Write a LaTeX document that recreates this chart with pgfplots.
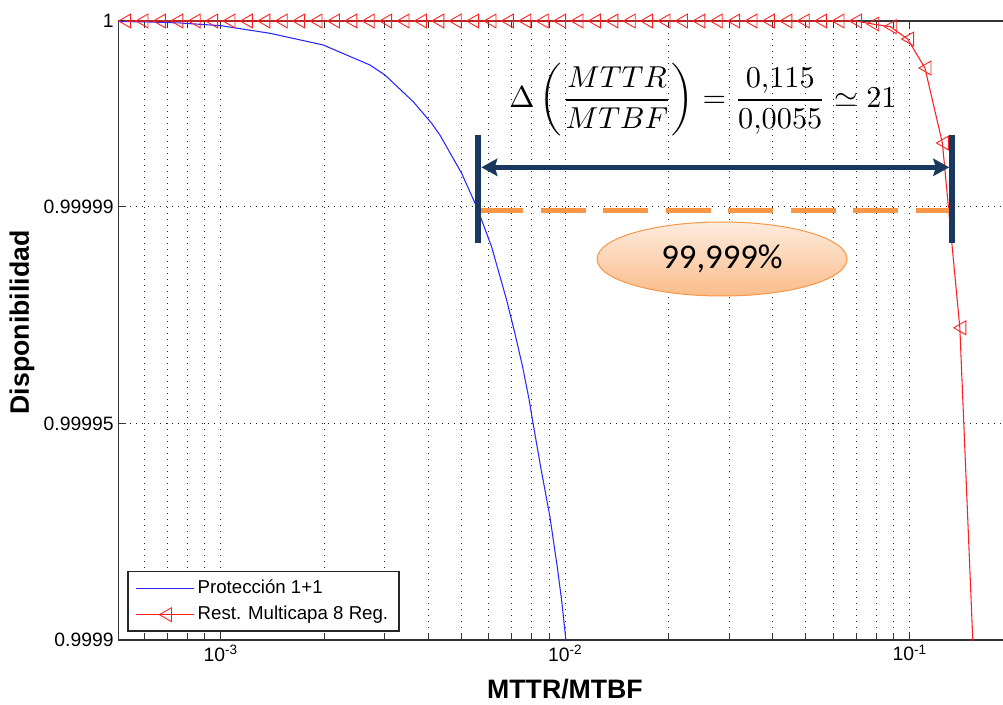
\documentclass[border=0pt]{standalone}
\usepackage{amsmath}
\usepackage{graphicx}
\usepackage[no-math]{fontspec}
\setmainfont{Liberation Sans}
\newfontfamily\calibri{Carlito}
\usepackage{pgfplots}
\pgfplotsset{compat=1.18}
\usetikzlibrary{arrows.meta}
\definecolor{navy}{RGB}{25,55,95}
\definecolor{orng}{RGB}{247,150,70}
\definecolor{ellTop}{RGB}{253,236,222}
\definecolor{ellBot}{RGB}{250,188,138}
\definecolor{mblue}{RGB}{40,40,255}
\definecolor{mred}{RGB}{255,30,30}
\begin{document}
\begin{tikzpicture}
\begin{axis}[
  at={(0pt,0pt)}, anchor=south west,
  scale only axis, width=665.5pt, height=464.25pt,
  xmode=log, xmin=5.045e-4, xmax=0.19,
  ymin=0, ymax=2.8571,
  ytick={0,1,2,2.8571}, yticklabels={0.9999,0.99995,0.99999,1},
  xtick={0.001,0.01,0.1},
  xticklabels={10\textsuperscript{-3},10\textsuperscript{-2},10\textsuperscript{-1}},
  minor xtick={6e-4,7e-4,8e-4,9e-4,2e-3,3e-3,4e-3,5e-3,6e-3,7e-3,8e-3,9e-3,0.02,0.03,0.04,0.05,0.06,0.07,0.08,0.09},
  ytick pos=left,
  tick align=inside,
  major tick length=6pt, minor tick length=4.5pt,
  every tick/.style={black!80, line width=0.75pt},
  axis line style={black!80, line width=1.1pt},
  grid=both,
  major grid style={black!85, line width=0.75pt, dash pattern=on 0.75pt off 3.75pt},
  minor grid style={black!85, line width=0.75pt, dash pattern=on 0.75pt off 3.75pt},
  ticklabel style={font=\fontsize{14.5}{17}\selectfont},
  xlabel={MTTR/MTBF}, ylabel={Disponibilidad},
  every axis x label/.style={at={(axis description cs:0.5034,-0.079)}, anchor=center, font=\bfseries\fontsize{20}{24}\selectfont},
  every axis y label/.style={at={(axis description cs:-0.1085,0.513)}, rotate=90, anchor=center, font=\bfseries\fontsize{20}{24}\selectfont},
  legend style={at={(rel axis cs:0.0101,0.0134)}, anchor=south west, draw=black!85, line width=1pt,
     font=\fontsize{14}{16}\selectfont, inner xsep=6pt, inner ysep=3.75pt, row sep=3pt,
     nodes={inner sep=2pt, text height=10.3pt, text depth=2.7pt}},
  legend cell align=left,
  legend image code/.code={\draw[#1, mark repeat=2, mark phase=2] plot coordinates {(0pt,0pt) (21.75pt,0pt) (43.5pt,0pt)};},
]
\addplot[mblue, line width=0.8pt] coordinates {
(5.045e-4,2.8548) (6.235e-4,2.8525) (7.617e-4,2.8480) (1.000e-3,2.8355)
(1.390e-3,2.8004) (1.985e-3,2.7464) (2.713e-3,2.6540) (2.998e-3,2.6079)
(3.623e-3,2.4847) (4.097e-3,2.3850) (4.330e-3,2.3309) (5.006e-3,2.1542)
(5.535e-3,2.0000) (6.117e-3,1.8154) (6.764e-3,1.5693) (7.149e-3,1.4156)
(7.526e-3,1.2615) (7.866e-3,1.1078) (8.047e-3,1.0120) (8.490e-3,0.7999)
(9.034e-3,0.5691) (9.486e-3,0.3383) (9.768e-3,0.1846) (1.0053e-2,0.0)
(1.03e-2,-0.15)
};
\addlegendentry{Protección 1+1}
\addplot[mred, line width=0.8pt, mark=triangle, mark size=6pt,
  mark options={solid, line width=0.65pt, xshift=1.5pt, rotate=90}] coordinates {
(5.264e-4,2.8571) (5.912e-4,2.8571) (6.642e-4,2.8571) (7.462e-4,2.8571)
(8.381e-4,2.8571) (9.415e-4,2.8571) (1.0575e-3,2.8571) (1.188e-3,2.8571)
(1.335e-3,2.8571) (1.500e-3,2.8571) (1.684e-3,2.8571) (1.892e-3,2.8571)
(2.126e-3,2.8571) (2.388e-3,2.8571) (2.682e-3,2.8571) (3.013e-3,2.8571)
(3.385e-3,2.8571) (3.802e-3,2.8571) (4.271e-3,2.8571) (4.797e-3,2.8571)
(5.389e-3,2.8571) (6.053e-3,2.8571) (6.800e-3,2.8571) (7.638e-3,2.8571)
(8.580e-3,2.8571) (9.639e-3,2.8571) (1.083e-2,2.8571) (1.216e-2,2.8571)
(1.367e-2,2.8571) (1.535e-2,2.8571) (1.724e-2,2.8571) (1.937e-2,2.8571)
(2.176e-2,2.8571) (2.445e-2,2.8571) (2.746e-2,2.8571) (3.085e-2,2.8571)
(3.465e-2,2.8571) (3.892e-2,2.8571) (4.372e-2,2.8571) (4.912e-2,2.8571)
(5.518e-2,2.8571) (6.198e-2,2.8571) (6.963e-2,2.8571) (7.820e-2,2.843)
(8.784e-2,2.831) (9.867e-2,2.774) (0.1108,2.640) (0.1245,2.294)
(0.1399,1.441) (0.1572,-0.50)
};
\addlegendentry{Rest. Multicapa 8 Reg.}
\end{axis}
% annotations
\draw[orng, line width=4pt, dash pattern=on 33.75pt off 13.1pt] (270pt,322pt) -- (625.5pt,322pt);
\draw[navy, line width=3.5pt, {Stealth[length=12pt,width=13pt,inset=2pt]}-{Stealth[length=12pt,width=13pt,inset=2pt]}] (272.3pt,354.5pt) -- (623.2pt,354.5pt);
\draw[navy, line width=4.5pt] (270pt,297.98pt) -- (270pt,378.75pt);
\draw[navy, line width=4.5pt] (625.5pt,297.98pt) -- (625.5pt,378.75pt);
\draw[draw=orng, line width=0.75pt, top color=ellTop, bottom color=ellBot] (452.8pt,285.75pt) ellipse [x radius=93.75pt, y radius=27.75pt];
\node[font=\calibri\fontsize{26}{30}\selectfont] at (452.8pt,285.75pt) {99,999\%};
\node at (438.5pt,405pt) {\scalebox{2.27}{$\displaystyle \Delta\left(\frac{MTTR}{MTBF}\right)=\frac{0{,}115}{0{,}0055}\simeq 21$}};
\pgfresetboundingbox
\path (-88.725pt,-48pt) rectangle (663.525pt,480pt);
\end{tikzpicture}
\end{document}
